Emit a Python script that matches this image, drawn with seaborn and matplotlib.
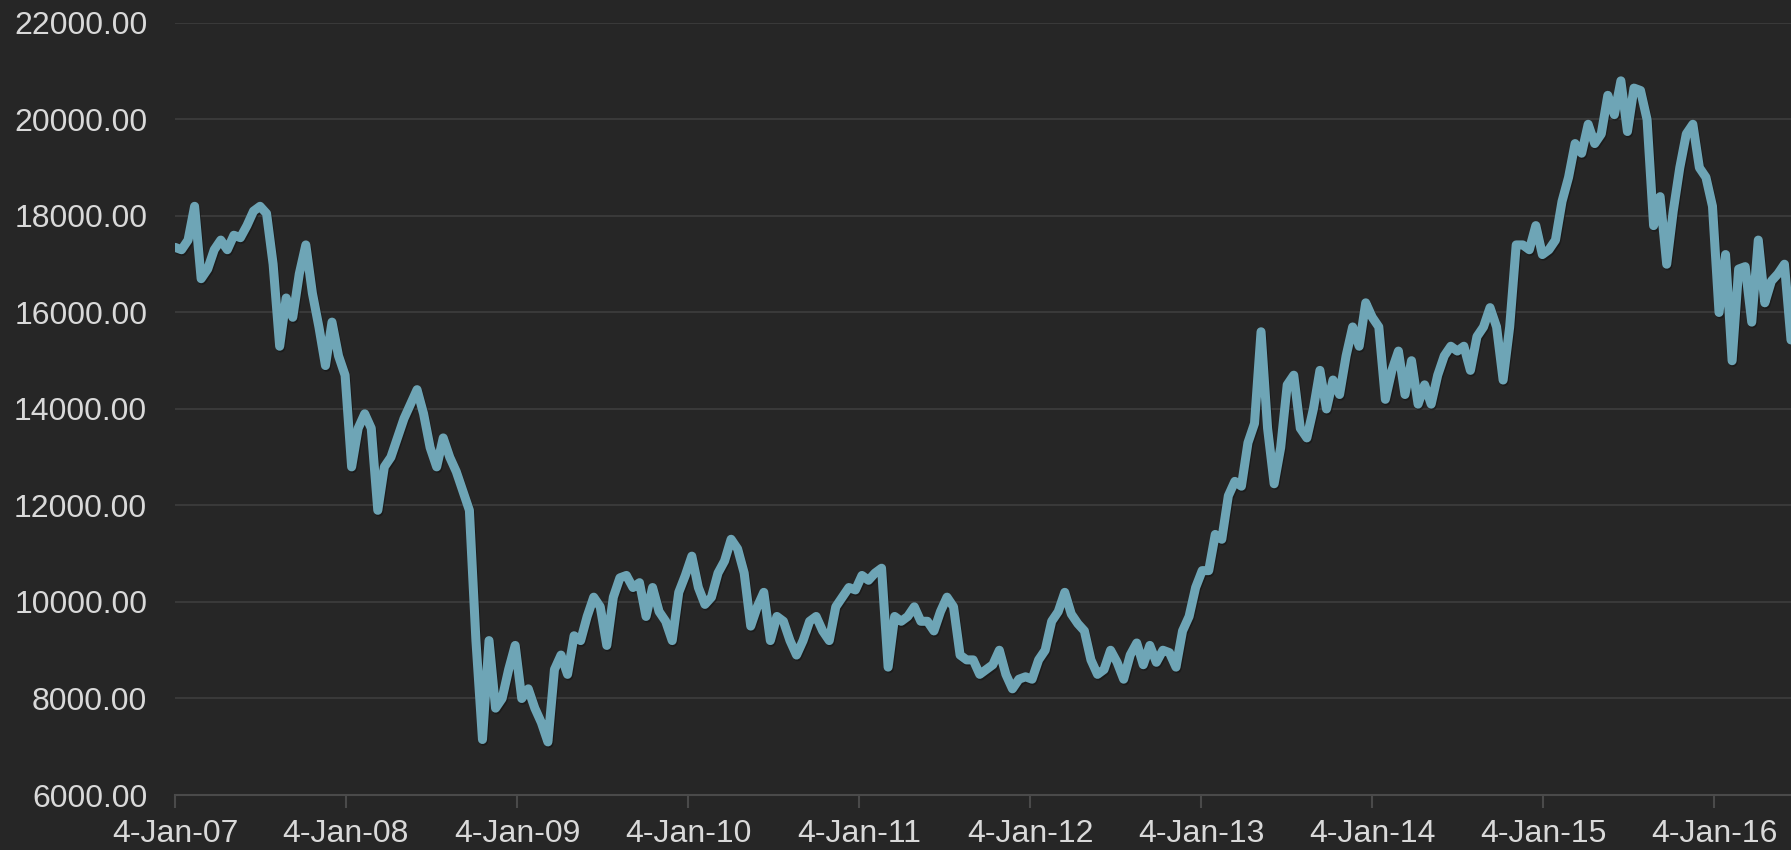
import pandas as pd
import matplotlib
matplotlib.use("Agg")
import matplotlib.pyplot as plt
import matplotlib.dates as mdates
import matplotlib.patheffects as pe
from matplotlib.ticker import FormatStrFormatter
import seaborn as sns

# Index level, sampled roughly every two weeks from 4-Jan-07 to 16-Jun-16
start_date = "2007-01-04"
end_date = "2016-06-16"
values = [
    # 2007
    17350, 17300, 17500, 18200, 16700, 16900, 17300, 17500, 17300, 17600,
    17550, 17800, 18100, 18200, 18050, 17000, 15300, 16300, 15900, 16800,
    17400, 16400, 15700, 14900, 15800, 15100,
    # 2008
    14700, 12800, 13600, 13900, 13600, 11900, 12800, 13000, 13400, 13800,
    14100, 14400, 13900, 13200, 12800, 13400, 13000, 12700, 12300, 11900,
    9200, 7150, 9200, 7800, 8000, 8600,
    # 2009
    9100, 8000, 8200, 7800, 7500, 7100, 8600, 8900, 8500, 9300,
    9200, 9700, 10100, 9900, 9100, 10100, 10500, 10550, 10300, 10400,
    9700, 10300, 9800, 9600, 9200, 10200, 10550,
    # 2010
    10950, 10300, 9950, 10100, 10600, 10850, 11300, 11100, 10600, 9500,
    9900, 10200, 9200, 9700, 9600, 9200, 8900, 9200, 9600, 9700,
    9400, 9200, 9900, 10100, 10300, 10250,
    # 2011
    10550, 10450, 10600, 10700, 8650, 9700, 9600, 9700, 9900, 9600,
    9600, 9400, 9800, 10100, 9900, 8900, 8800, 8800, 8500, 8600,
    8700, 9000, 8500, 8200, 8400, 8450,
    # 2012
    8400, 8800, 9000, 9600, 9800, 10200, 9750, 9550, 9400, 8800,
    8500, 8600, 9000, 8750, 8400, 8900, 9150, 8700, 9100, 8750,
    9000, 8950, 8650, 9400, 9700, 10300,
    # 2013
    10650, 10650, 11400, 11300, 12200, 12500, 12400, 13300, 13700, 15600,
    13600, 12450, 13200, 14500, 14700, 13600, 13400, 14000, 14800, 14000,
    14600, 14300, 15100, 15700, 15300, 16200,
    # 2014
    15900, 15700, 14200, 14800, 15200, 14300, 15000, 14100, 14500, 14100,
    14700, 15100, 15300, 15200, 15300, 14800, 15500, 15700, 16100, 15700,
    14600, 15700, 17400, 17400, 17300, 17800,
    # 2015
    17200, 17300, 17500, 18300, 18800, 19500, 19300, 19900, 19500, 19700,
    20500, 20100, 20800, 19750, 20650, 20600, 20000, 17800, 18400, 17000,
    18100, 19000, 19700, 19900, 19000, 18800,
    # 2016
    18200, 16000, 17200, 15000, 16900, 16950, 15800, 17500, 16200, 16650,
    16800, 17000, 15430,
]
dates = pd.date_range(start_date, end_date, periods=len(values))
df = pd.DataFrame({"Date": dates, "Close": values})

y_ticks = [6000, 8000, 10000, 12000, 14000, 16000, 18000, 20000, 22000]
x_ticks = pd.date_range("2007-01-04", periods=10, freq=pd.DateOffset(years=1))

bg = "#262626"
sns.set_style("dark")
plt.rcParams["font.family"] = ["Liberation Sans", "DejaVu Sans"]

fig = plt.figure(figsize=(17.91, 8.5), dpi=100, facecolor=bg)
ax = fig.add_axes([0.0977, 0.0647, 0.9023, 0.9083])
ax.set_facecolor(bg)

sns.lineplot(data=df, x="Date", y="Close", ax=ax, color="#6ea5b6", linewidth=6.5,
             solid_joinstyle="round", solid_capstyle="round",
             path_effects=[pe.SimpleLineShadow(offset=(0.8, -1.2), shadow_color="#151515", alpha=0.6),
                           pe.Normal()])

ax.set_xlim(dates[0], dates[-1])
ax.set_ylim(6000, 22000)
ax.set_yticks(y_ticks)
ax.yaxis.set_major_formatter(FormatStrFormatter("%.2f"))
ax.set_xticks(x_ticks)
ax.xaxis.set_major_formatter(mdates.DateFormatter("%-d-%b-%y"))

ax.grid(axis="y", color="#3c3c3c", linewidth=1.3)
ax.grid(axis="x", visible=False)
ax.set_axisbelow(True)

for side in ["top", "right", "left"]:
    ax.spines[side].set_visible(False)
ax.spines["bottom"].set_color("#4a4a4a")
ax.spines["bottom"].set_linewidth(1.5)

ax.tick_params(axis="y", length=0, pad=20, labelsize=23, labelcolor="#d9d9d9")
ax.tick_params(axis="x", length=9, width=1.5, color="#4a4a4a", pad=8,
               labelsize=23, labelcolor="#d9d9d9", bottom=True)
ax.set_xlabel("")
ax.set_ylabel("")

plt.savefig("out.png", dpi=100, facecolor=bg)
plt.close()
